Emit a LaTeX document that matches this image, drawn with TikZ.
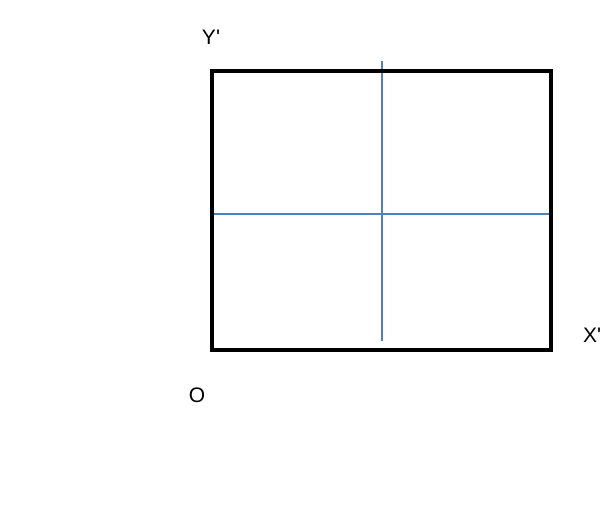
\documentclass[tikz,border=0pt]{standalone}
\usepackage{fontspec}
\setmainfont{Liberation Sans}
\usetikzlibrary{positioning}

\begin{document}
\begin{tikzpicture}[x=1pt,y=-1pt,
      frame/.style={line width=4pt,line cap=rect,line join=miter},
      axisline/.style={line width=1.5pt,color={rgb,255:red,79;green,129;blue,189}},
      every node/.style={inner sep=0pt,font=\fontsize{21}{25}\selectfont}]
      \useasboundingbox (0,0) rectangle (601,520);

      % corners of the frame
      \coordinate (bl) at (212,350);
      \coordinate (br) at (551,350);
      \coordinate (tr) at (551,71);
      \coordinate (tl) at (212,71);
      % ends of the blue cross
      \coordinate (vtop) at (382,61);
      \coordinate (vbot) at (382,341);
      \coordinate (hleft) at (212,214);
      \coordinate (hright) at (551,214);

      \draw[axisline] (vtop) -- (vbot);
      \draw[axisline] (hleft) -- (hright);
      \draw[frame] (bl) -- (br) -- (tr) -- (tl) -- cycle;

      \node (ylab) at (211,37) {Y\textquotesingle};
      \node (xlab) at (592,335) {X\textquotesingle};
      \node (olab) at (197,395) {O};
\end{tikzpicture}
\end{document}
